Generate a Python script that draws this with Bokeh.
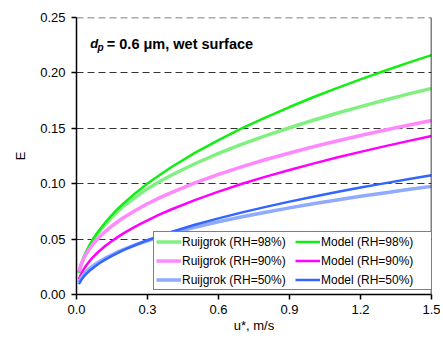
from bokeh.plotting import figure
from bokeh.models import Legend, LegendItem, Span, Label, FixedTicker, NumeralTickFormatter, Range1d
from bokeh.embed import file_html
from bokeh.resources import INLINE

u = [0.01, 0.02, 0.03, 0.04, 0.055, 0.07, 0.085, 0.1, 0.125, 0.15, 0.175, 0.2, 0.25, 0.3,
     0.35, 0.4, 0.5, 0.6, 0.7, 0.8, 0.9, 1.0, 1.1, 1.2, 1.3, 1.4, 1.5]
ruij_98 = [0.0192, 0.0268, 0.0326, 0.0374, 0.0436, 0.0489, 0.0536, 0.0578, 0.0640, 0.0700, 0.0752, 0.0800, 0.0880, 0.0955,
           0.1018, 0.1076, 0.1180, 0.1273, 0.1357, 0.1434, 0.1505, 0.1573, 0.1636, 0.1696, 0.1753, 0.1808, 0.1860]
model_98 = [0.0197, 0.0274, 0.0333, 0.0382, 0.0445, 0.0499, 0.0548, 0.0592, 0.0659, 0.0719, 0.0774, 0.0825, 0.0917, 0.1001,
            0.1077, 0.1148, 0.1278, 0.1394, 0.1501, 0.1599, 0.1692, 0.1780, 0.1862, 0.1942, 0.2017, 0.2090, 0.2160]
ruij_90 = [0.0207, 0.0274, 0.0323, 0.0363, 0.0413, 0.0455, 0.0492, 0.0526, 0.0575, 0.0619, 0.0659, 0.0696, 0.0761, 0.0819,
           0.0872, 0.0920, 0.1007, 0.1084, 0.1154, 0.1218, 0.1277, 0.1333, 0.1385, 0.1435, 0.1482, 0.1527, 0.1570]
model_90 = [0.0135, 0.0187, 0.0227, 0.0259, 0.0301, 0.0338, 0.0370, 0.0399, 0.0444, 0.0483, 0.0520, 0.0554, 0.0615, 0.0670,
            0.0721, 0.0767, 0.0852, 0.0929, 0.0999, 0.1064, 0.1124, 0.1181, 0.1236, 0.1287, 0.1337, 0.1384, 0.1430]
ruij_50 = [0.0111, 0.0150, 0.0179, 0.0203, 0.0233, 0.0258, 0.0281, 0.0301, 0.0332, 0.0359, 0.0384, 0.0407, 0.0449, 0.0485,
           0.0519, 0.0550, 0.0606, 0.0656, 0.0701, 0.0743, 0.0782, 0.0819, 0.0853, 0.0886, 0.0917, 0.0947, 0.0976]
model_50 = [0.0093, 0.0130, 0.0159, 0.0183, 0.0214, 0.0240, 0.0264, 0.0286, 0.0319, 0.0349, 0.0376, 0.0402, 0.0448, 0.0490,
            0.0528, 0.0564, 0.0629, 0.0687, 0.0741, 0.0791, 0.0838, 0.0883, 0.0925, 0.0965, 0.1003, 0.1040, 0.1076]

x_ticks = [0.0, 0.3, 0.6, 0.9, 1.2, 1.5]
y_ticks = [0.0, 0.05, 0.10, 0.15, 0.20, 0.25]

FONT = "Liberation Sans"

p = figure(width=440, height=340, output_backend="svg", toolbar_location=None,
           x_range=Range1d(0, 1.5), y_range=Range1d(0, 0.25),
           min_border_left=76, min_border_right=9, min_border_top=17, min_border_bottom=46)
p.outline_line_color = None
p.background_fill_color = "white"
p.border_fill_color = "white"

for ax in (p.xaxis[0], p.yaxis[0]):
    ax.axis_line_color = "black"
    ax.axis_line_width = 1.5
    ax.major_tick_line_color = "black"
    ax.major_tick_line_width = 1.5
    ax.major_tick_in = 0
    ax.major_tick_out = 5
    ax.minor_tick_line_color = None
    ax.major_label_text_font = FONT
    ax.major_label_text_font_size = "13px"
    ax.major_label_text_color = "black"
    ax.axis_label_text_font = FONT
    ax.axis_label_text_font_size = "13px"
    ax.axis_label_text_font_style = "normal"
    ax.axis_label_text_color = "black"

p.xaxis.ticker = FixedTicker(ticks=x_ticks)
p.yaxis.ticker = FixedTicker(ticks=y_ticks)
p.xaxis.formatter = NumeralTickFormatter(format="0.0")
p.yaxis.formatter = NumeralTickFormatter(format="0.00")
p.xaxis.major_label_standoff = 5
p.yaxis.major_label_standoff = 6
p.xaxis.axis_label = "u*, m/s"
p.yaxis.axis_label = "E"
p.xaxis.axis_label_standoff = 1
p.yaxis.axis_label_standoff = 9

p.xgrid.grid_line_color = None
p.ygrid.grid_line_color = "#333333"
p.ygrid.grid_line_dash = "7 4"
p.ygrid.grid_line_width = 1

p.add_layout(Span(location=1.5, dimension="height", line_color="black", line_width=1.5))
p.add_layout(Span(location=0.25, dimension="width", line_color="#555555", line_width=1.5, line_dash="7 4"))

r_r98 = p.line(u, ruij_98, line_color="#80F080", line_width=3.5)
r_m98 = p.line(u, model_98, line_color="#11EE11", line_width=2.5)
r_r90 = p.line(u, ruij_90, line_color="#FF88FF", line_width=3.5)
r_m90 = p.line(u, model_90, line_color="#FF00FF", line_width=2.5)
r_r50 = p.line(u, ruij_50, line_color="#8FAAFF", line_width=3.5)
r_m50 = p.line(u, model_50, line_color="#3366FF", line_width=2.5)

legend = Legend(items=[
    LegendItem(label="Ruijgrok (RH=98%)", renderers=[r_r98]),
    LegendItem(label="Ruijgrok (RH=90%)", renderers=[r_r90]),
    LegendItem(label="Ruijgrok (RH=50%)", renderers=[r_r50]),
    LegendItem(label="Model (RH=98%)", renderers=[r_m98]),
    LegendItem(label="Model (RH=90%)", renderers=[r_m90]),
    LegendItem(label="Model (RH=50%)", renderers=[r_m50]),
], location=(77, 4), ncols=2)
legend.label_text_font = FONT
legend.label_text_font_size = "12px"
legend.label_text_color = "black"
legend.glyph_width = 25
legend.glyph_height = 15
legend.label_height = 15
legend.label_width = 109
legend.label_standoff = 1
legend.spacing = 4
legend.padding = 2
legend.margin = 0
legend.border_line_color = "black"
legend.border_line_width = 1
legend.background_fill_alpha = 1
p.add_layout(legend)

p.add_layout(Label(x=0.058, y=0.2263, text="d", text_font=FONT, text_font_size="13px",
                   text_font_style="bold italic", text_color="black", text_baseline="alphabetic"))
p.add_layout(Label(x=0.089, y=0.2232, text="p", text_font=FONT, text_font_size="10px",
                   text_font_style="bold italic", text_color="black", text_baseline="alphabetic"))
p.add_layout(Label(x=0.128, y=0.2263, text="= 0.6 μm, wet surface", text_font=FONT, text_font_size="14.5px",
                   text_font_style="bold", text_color="black", text_baseline="alphabetic"))

open("out.html", "w").write(file_html(p, INLINE))
